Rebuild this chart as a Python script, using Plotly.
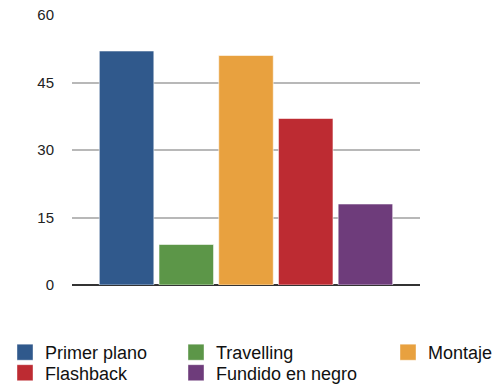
import plotly.graph_objects as go

categories = ["Técnicas"]
series_names = ["Primer plano", "Travelling", "Montaje", "Flashback", "Fundido en negro"]
series_values = [52, 9, 51, 37, 18]
series_colors = ["#30598C", "#5C9648", "#E8A13F", "#BD2B32", "#6E3C7B"]
y_ticks = [0, 15, 30, 45, 60]

W, H = 499, 388
FONT = "Liberation Sans, Arial, Helvetica, sans-serif"

# legend slot for each series: (left px, centre y px)
legend_ids = ["legend", "legend2", "legend3", "legend4", "legend5"]
legend_pos = [(5, 352.5), (176, 352.5), (388, 352.5), (5, 373), (176, 373)]

fig = go.Figure()
for name, val, col in zip(series_names, series_values, series_colors):
    fig.add_trace(go.Bar(
        x=categories, y=[val], name=name, legendgroup=name, showlegend=False,
        marker=dict(color=col, line=dict(color="rgba(255,255,255,0.55)", width=1)),
        hoverinfo="name+y",
    ))
# legend-only entries (larger square swatches, like the reference)
for name, col, lg in zip(series_names, series_colors, legend_ids):
    fig.add_trace(go.Scatter(
        x=[None], y=[None], mode="markers", name=name, legendgroup=name, legend=lg,
        marker=dict(symbol="square", size=16, color=col,
                    line=dict(color="rgba(255,255,255,0.4)", width=1)),
        showlegend=True, hoverinfo="skip",
    ))

def leg(xpx, ypx):
    return dict(
        xref="container", yref="container", x=xpx / W, y=1 - ypx / H,
        xanchor="left", yanchor="middle", orientation="v",
        font=dict(family=FONT, size=18, color="#111111"),
        bgcolor="rgba(0,0,0,0)", borderwidth=0, itemsizing="trace",
    )

legends = {lg: leg(px, py) for lg, (px, py) in zip(legend_ids, legend_pos)}

fig.update_layout(
    width=W, height=H,
    margin=dict(l=72, r=79, t=15, b=103, autoexpand=False),
    paper_bgcolor="white", plot_bgcolor="white",
    barmode="group", bargap=0.142, bargroupgap=0.087,
    showlegend=True,
    xaxis=dict(showticklabels=False, showgrid=False, zeroline=False, showline=False,
               ticks="", fixedrange=True),
    yaxis=dict(range=[0, 60], tickvals=y_ticks, ticktext=[str(v) for v in y_ticks],
               showgrid=True, gridcolor="#b8b8b8", gridwidth=1.5,
               zeroline=True, zerolinecolor="#333333", zerolinewidth=2,
               showline=False, ticks="", ticklabelstandoff=17,
               tickfont=dict(family=FONT, size=15, color="#222222"), fixedrange=True),
    **legends,
)

fig.write_html("out.html")
